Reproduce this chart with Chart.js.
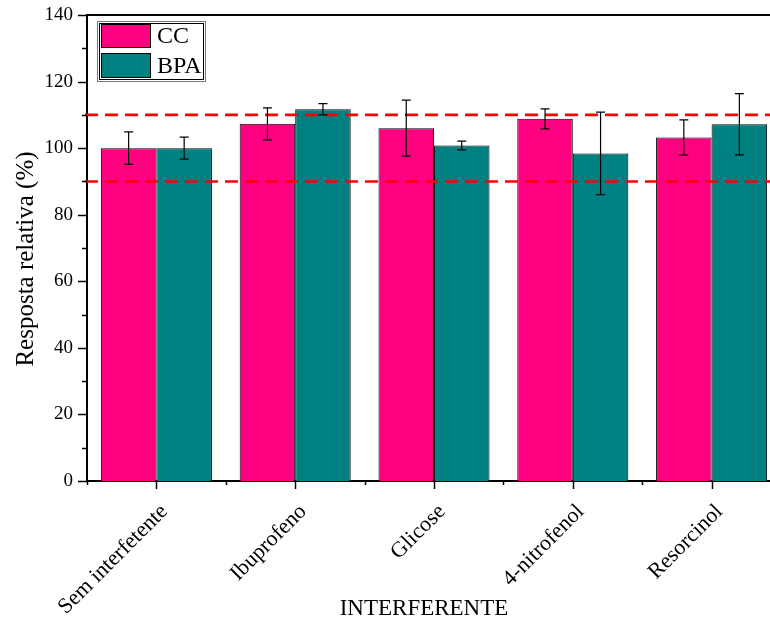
<!DOCTYPE html>
<html><head><meta charset="utf-8">
<script src="https://cdn.jsdelivr.net/npm/chart.js@4/dist/chart.umd.min.js"></script>
<style>html,body{margin:0;padding:0;overflow:hidden;background:#fff;width:770px;height:618px}
#wrap{width:782px;height:618px;position:relative}</style>
</head><body><div id="wrap"><canvas id="c" width="782" height="618"></canvas></div>
<script>
const categories = ['Sem interfetente', 'Ibuprofeno', 'Glicose', '4-nitrofenol', 'Resorcinol'];
const seriesNames = ['CC', 'BPA'];
const ccValues = [100, 107.3, 106.0, 108.8, 103.2];
const ccErrors = [4.9, 4.8, 8.4, 3.0, 5.3];
const bpaValues = [100, 111.7, 100.8, 98.4, 107.2];
const bpaErrors = [3.3, 1.7, 1.3, 12.4, 9.2];
const limitLines = [90, 110];
const yMin = 0, yMax = 140, yStep = 20;
const yTitle = 'Resposta relativa (%)';
const xTitle = 'INTERFERENTE';

const FONT = "'Liberation Serif', 'Times New Roman', serif";
Chart.defaults.font.family = FONT;
Chart.defaults.color = '#000';

const errors = [ccErrors, bpaErrors];
const colors = ['#FF0080', '#008080'];

const overlay = {
  id: 'overlay',
  afterDatasetsDraw(chart) {
    const ctx = chart.ctx, ys = chart.scales.y, area = chart.chartArea;
    ctx.save();
    ctx.strokeStyle = '#FF0000';
    ctx.lineWidth = 2.6;
    ctx.setLineDash([13, 7]);
    limitLines.forEach(v => {
      const y = ys.getPixelForValue(v);
      ctx.beginPath();
      ctx.moveTo(area.left - 2, y);
      ctx.lineTo(area.right, y);
      ctx.stroke();
    });
    ctx.restore();
    ctx.save();
    ctx.strokeStyle = '#000';
    ctx.lineWidth = 1.2;
    chart.data.datasets.forEach((ds, i) => {
      const meta = chart.getDatasetMeta(i);
      meta.data.forEach((bar, j) => {
        const v = ds.data[j], e = errors[i][j];
        const x = bar.x;
        const yt = ys.getPixelForValue(v + e), yb = ys.getPixelForValue(v - e);
        ctx.beginPath();
        ctx.moveTo(x, yt); ctx.lineTo(x, yb);
        ctx.moveTo(x - 4.5, yt); ctx.lineTo(x + 4.5, yt);
        ctx.moveTo(x - 4.5, yb); ctx.lineTo(x + 4.5, yb);
        ctx.stroke();
      });
    });
    ctx.restore();
  },
  afterDraw(chart) {
    const ctx = chart.ctx, ys = chart.scales.y, xs = chart.scales.x, area = chart.chartArea;
    ctx.save();
    ctx.strokeStyle = '#000';
    ctx.lineWidth = 2;
    ctx.beginPath();
    ctx.moveTo(area.left, area.top); ctx.lineTo(area.right, area.top);
    ctx.lineTo(area.right, area.bottom);
    ctx.stroke();
    ctx.lineWidth = 1.5;
    for (let v = yMin; v <= yMax; v += yStep / 2) {
      const y = Math.round(ys.getPixelForValue(v)) + 0.5;
      const len = (v % yStep === 0) ? 9 : 5;
      ctx.beginPath(); ctx.moveTo(area.left - len, y); ctx.lineTo(area.left, y); ctx.stroke();
    }
    const n = categories.length;
    for (let i = 0; i < n; i++) {
      const x = Math.round(xs.getPixelForValue(i)) + 0.5;
      ctx.beginPath(); ctx.moveTo(x, area.bottom); ctx.lineTo(x, area.bottom + 8); ctx.stroke();
    }
    const cw = (area.right - area.left) / n;
    for (let i = 0; i <= n; i++) {
      const x = Math.round(area.left + i * cw) + 0.5;
      ctx.beginPath(); ctx.moveTo(x, area.bottom); ctx.lineTo(x, area.bottom + 4); ctx.stroke();
    }
    const lx = 97, ly = 21, lw = 108, lh = 60;
    ctx.fillStyle = '#fff';
    ctx.fillRect(lx, ly, lw, lh);
    ctx.lineWidth = 1;
    ctx.strokeStyle = '#777';
    ctx.strokeRect(lx + 0.5, ly + 0.5, lw, lh);
    ctx.strokeStyle = '#000';
    ctx.strokeRect(lx + 2.5, ly + 2.5, lw - 4, lh - 4);
    const sw = [[101, 24, 50, 24], [101, 53, 50, 25]];
    ctx.font = "24px " + FONT;
    ctx.textAlign = 'left';
    ctx.textBaseline = 'middle';
    seriesNames.forEach((name, i) => {
      const [sx, sy, w, h] = sw[i];
      ctx.fillStyle = colors[i];
      ctx.fillRect(sx, sy, w, h);
      ctx.strokeStyle = '#000';
      ctx.lineWidth = 1;
      ctx.strokeRect(sx + 0.5, sy + 0.5, w - 1, h - 1);
      ctx.fillStyle = '#000';
      ctx.fillText(name, 157, sy + h / 2 + 1);
    });
    ctx.fillStyle = '#000';
    ctx.font = "25px " + FONT;
    ctx.textAlign = 'center';
    ctx.textBaseline = 'alphabetic';
    ctx.save();
    ctx.translate(33, 259);
    ctx.rotate(-Math.PI / 2);
    ctx.fillText(yTitle, 0, 0);
    ctx.restore();
    ctx.font = "23px " + FONT;
    ctx.fillText(xTitle, 424, 615);
    ctx.restore();
  }
};

new Chart(document.getElementById('c'), {
  type: 'bar',
  data: {
    labels: categories,
    datasets: [
      { label: seriesNames[0], data: ccValues, backgroundColor: colors[0], borderColor: '#000', borderWidth: 1, categoryPercentage: 0.8, barPercentage: 1.0 },
      { label: seriesNames[1], data: bpaValues, backgroundColor: colors[1], borderColor: '#000', borderWidth: 1, categoryPercentage: 0.8, barPercentage: 1.0 }
    ]
  },
  options: {
    responsive: false,
    animation: false,
    layout: { padding: { top: 15, right: 1, left: 0, bottom: 0 } },
    plugins: { legend: { display: false }, tooltip: { enabled: false } },
    scales: {
      x: {
        grid: { display: false, drawTicks: false },
        border: { display: true, color: '#000', width: 2 },
        ticks: { autoSkip: false, minRotation: 45, maxRotation: 45, font: { size: 22 }, color: '#000', padding: 18, labelOffset: 8 },
        afterFit(s) { s.height = 137; }
      },
      y: {
        min: yMin, max: yMax,
        grid: { display: false, drawTicks: true, tickLength: 11 },
        border: { display: true, color: '#000', width: 2 },
        ticks: { stepSize: yStep, font: { size: 19 }, color: '#000', padding: 3 },
        afterFit(s) { s.width = 87; }
      }
    }
  },
  plugins: [overlay]
});
</script>
</body></html>
